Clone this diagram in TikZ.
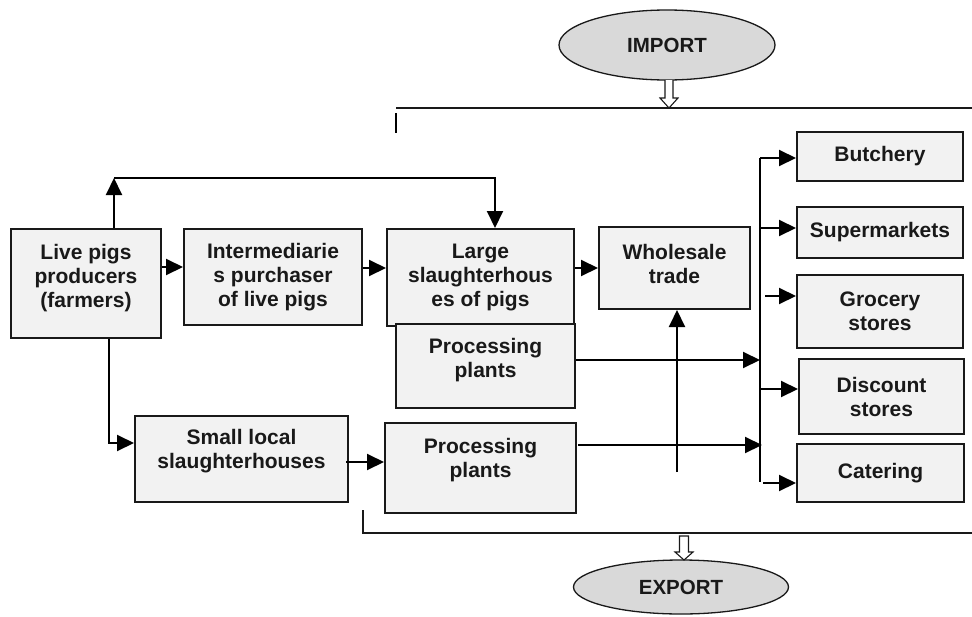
\documentclass[tikz,border=0pt]{standalone}
\usepackage{fontspec}
\setmainfont{Liberation Sans}
\usetikzlibrary{arrows.meta,shapes.geometric}
\definecolor{boxgray}{HTML}{F2F2F2}
\definecolor{ellgray}{HTML}{D9D9D9}
\begin{document}
\begin{tikzpicture}[x=1pt,y=-1pt,
  boxtxt/.style={font=\bfseries\fontsize{21}{24}\selectfont, align=center, inner sep=0pt, text=black!90},
  box/.style={draw=black!90, line width=2pt, fill=boxgray, inner sep=0pt, boxtxt},
  ell/.style={ellipse, draw=black!90, line width=1.3pt, fill=ellgray, inner sep=0pt, font=\bfseries\fontsize{20.5}{24}\selectfont, text=black!90},
  conn/.style={line width=2pt, draw=black, -{Triangle[length=17pt,width=16pt]}},
  plain/.style={line width=2pt, draw=black},
  thin/.style={line width=1.3pt, draw=black!90},
  hollow/.style={line width=1.1pt, draw=black!90, fill=white, line join=miter}
]
\fill[white] (0,0) rectangle (972,616);
\useasboundingbox (0,0) rectangle (972,616);

% ellipses
\node[ell, minimum width=216pt, minimum height=70pt] (imp) at (667,45) {IMPORT};
\node[ell, minimum width=215pt, minimum height=54pt] (exp) at (681,587) {EXPORT};

% boxes
\node[box, minimum width=150pt, minimum height=109pt] (live) at (86,283.5) {};
\node[boxtxt] (livet) at ([yshift=5.5pt]live.center) {Live pigs\\producers\\(farmers)};
\node[box, minimum width=178pt, minimum height=96pt] (inter) at (273,277) {Intermediarie\\s purchaser\\of live pigs};
\node[box, minimum width=187pt, minimum height=97pt] (large) at (480.5,277.5) {Large\\slaughterhous\\es of pigs};
\node[box, minimum width=179pt, minimum height=84pt] (pp1) at (485.5,366) {};
\node[boxtxt] (pp1t) at ([yshift=5.5pt]pp1.center) {Processing\\plants};
\node[box, minimum width=151pt, minimum height=82pt] (whole) at (674.5,268) {};
\node[boxtxt] (wholet) at ([yshift=4.5pt]whole.center) {Wholesale\\trade};
\node[box, minimum width=213pt, minimum height=86pt] (small) at (241.5,459) {};
\node[boxtxt] (smallt) at ([yshift=7.5pt]small.center) {Small local\\slaughterhouses};
\node[box, minimum width=191pt, minimum height=90pt] (pp2) at (480.5,468) {};
\node[boxtxt] (pp2t) at ([yshift=8pt]pp2.center) {Processing\\plants};

\node[box, minimum width=166pt, minimum height=49pt] (butch) at (880,156.5) {Butchery};
\node[box, minimum width=166pt, minimum height=51pt] (super) at (880,232.5) {Supermarkets};
\node[box, minimum width=166pt, minimum height=73pt] (groc) at (880,311.5) {Grocery\\stores};
\node[box, minimum width=165pt, minimum height=75pt] (disc) at (881.5,396.5) {Discount\\stores};
\node[box, minimum width=167pt, minimum height=58pt] (cater) at (880.5,473) {Catering};

% coordinates
\coordinate (topL) at (114,178);
\coordinate (topR) at (495,178);
\coordinate (downC) at (109,443);
\coordinate (bus) at (760,158);
\coordinate (busEnd) at (760,482);
\coordinate (wsFoot) at (677,472);

% main flow
\draw[conn] (live.north -| topL) -- (topL);
\draw[conn] (topL) -- (topR) -- (large.north -| topR);
\draw[conn] (live.east |- 0,267) -- (inter.west |- 0,267);
\draw[conn] (inter.east |- 0,268) -- (large.west |- 0,268);
\draw[conn] (large.east |- 0,268) -- (whole.west |- 0,268);
\draw[conn] (live.south -| downC) -- (downC) -- (small.west |- downC);
\draw[conn] (346,462) -- (pp2.west |- 0,462);
\draw[conn] (wsFoot) -- (whole.south -| wsFoot);
\draw[conn] (pp1.east |- 0,360) -- (760,360);
\draw[conn] (578,445) -- (762,445);

% distribution bus
\draw[plain] (bus) -- (busEnd);
\draw[conn] (bus) -- (butch.west |- bus);
\draw[conn] (760,228) -- (super.west |- 0,228);
\draw[conn] (765,296) -- (groc.west |- 0,296);
\draw[conn] (760,389) -- (disc.west |- 0,389);
\draw[conn] (763,483) -- (cater.west |- 0,483);

% import / export lines
\draw[thin] (396,108) -- (972,108);
\draw[plain] (396,113) -- (396,133);
\draw[thin] (363,510) -- (363,533) -- (972,533);

% hollow arrows
\draw[hollow] (665,80) -- (665,98) -- (660,98) -- (669,108) -- (678,98) -- (673,98) -- (673,80);
\draw[hollow] (679.5,536) -- (679.5,552) -- (675,552) -- (684,560) -- (693,552) -- (688.5,552) -- (688.5,536) -- cycle;
\end{tikzpicture}
\end{document}
